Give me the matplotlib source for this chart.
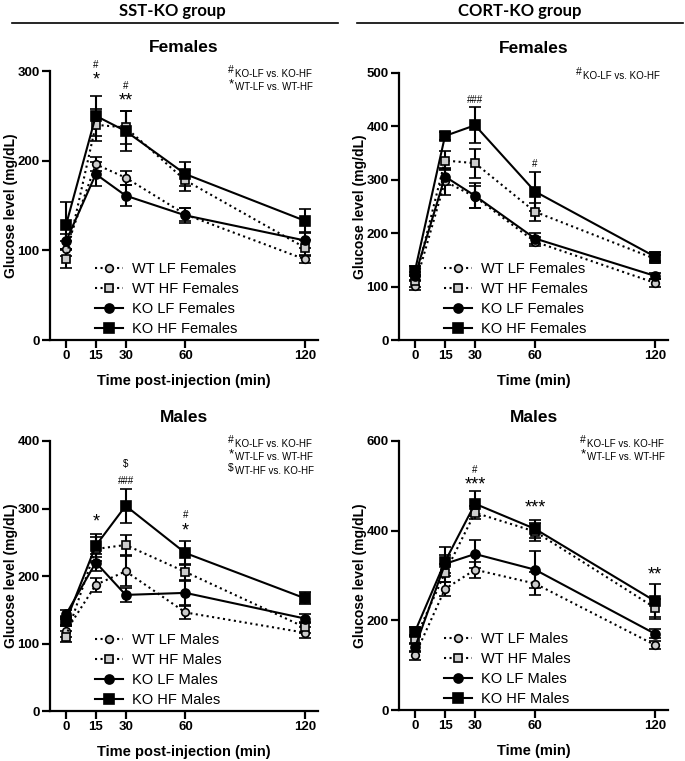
import numpy as np
import matplotlib.pyplot as plt
from matplotlib.lines import Line2D

plt.rcParams['font.family'] = ['Liberation Sans', 'DejaVu Sans']

times = [0, 15, 30, 60, 120]
groups = ["WT LF", "WT HF", "KO LF", "KO HF"]

# SST-KO females
sst_f_mean = {
    "WT LF": [102, 196, 181, 140, 90],
    "WT HF": [90, 240, 237, 178, 103],
    "KO LF": [110, 185, 161, 139, 111],
    "KO HF": [128, 250, 233, 185, 133],
}
sst_f_err = {
    "WT LF": [8, 8, 8, 7, 4],
    "WT HF": [10, 18, 18, 12, 8],
    "KO LF": [8, 13, 12, 8, 8],
    "KO HF": [26, 22, 22, 13, 13],
}

# CORT-KO females
cort_f_mean = {
    "WT LF": [102, 297, 268, 184, 107],
    "WT HF": [110, 336, 331, 240, 152],
    "KO LF": [120, 306, 270, 190, 120],
    "KO HF": [130, 382, 402, 278, 156],
}
cort_f_err = {
    "WT LF": [8, 25, 20, 8, 8],
    "WT HF": [10, 18, 27, 17, 8],
    "KO LF": [8, 15, 23, 10, 5],
    "KO HF": [8, 8, 34, 37, 8],
}

# SST-KO males
sst_m_mean = {
    "WT LF": [118, 187, 207, 146, 116],
    "WT HF": [110, 240, 246, 206, 124],
    "KO LF": [143, 220, 172, 175, 137],
    "KO HF": [133, 245, 304, 234, 167],
}
sst_m_err = {
    "WT LF": [8, 10, 22, 10, 8],
    "WT HF": [8, 18, 15, 12, 8],
    "KO LF": [6, 12, 10, 18, 7],
    "KO HF": [6, 17, 25, 18, 9],
}

# CORT-KO males
cort_m_mean = {
    "WT LF": [122, 270, 313, 282, 145],
    "WT HF": [158, 306, 440, 398, 228],
    "KO LF": [140, 326, 348, 313, 170],
    "KO HF": [175, 331, 460, 404, 243],
}
cort_m_err = {
    "WT LF": [10, 15, 18, 25, 10],
    "WT HF": [10, 20, 15, 20, 20],
    "KO LF": [10, 20, 32, 41, 10],
    "KO HF": [10, 32, 28, 20, 39],
}

styles = {
    "WT LF": dict(ls=':', marker='o', mfc='#cccccc', ms=5.5),
    "WT HF": dict(ls=':', marker='s', mfc='#cccccc', ms=5.5),
    "KO LF": dict(ls='-', marker='o', mfc='black', ms=6.5),
    "KO HF": dict(ls='-', marker='s', mfc='black', ms=7),
}


def draw_panel(rect, means, errs, sex, ylim, yticks, xlabel, marks, notes, note_x):
    ax = fig.add_axes(rect)
    handles = []
    for g in groups:
        st = styles[g]
        ax.errorbar(times, means[g], yerr=errs[g], color='black', lw=1.5,
                    ls=st['ls'], marker=st['marker'], mfc=st['mfc'], mec='black',
                    mew=1.2, ms=st['ms'], capsize=4.5, capthick=1.5, elinewidth=1.5)
        handles.append(Line2D([], [], color='black', lw=1.5, ls=st['ls'],
                              marker=st['marker'], mfc=st['mfc'], mec='black',
                              mew=1.2, ms=st['ms'], label=g + " " + sex))
    ax.set_xlim(-8, 126.5)
    ax.set_ylim(*ylim)
    ax.set_xticks(times)
    ax.set_yticks(yticks)
    for s in ['top', 'right']:
        ax.spines[s].set_visible(False)
    for s in ['left', 'bottom']:
        ax.spines[s].set_linewidth(1.6)
    ax.tick_params(width=1.6, length=5.5, labelsize=9.5, pad=2)
    for lab in ax.get_xticklabels() + ax.get_yticklabels():
        lab.set_fontweight('bold')
    ax.set_xlabel(xlabel, fontsize=10.5, fontweight='bold', labelpad=8)
    ax.set_ylabel("Glucose level (mg/dL)", fontsize=10, fontweight='bold')
    ax.yaxis.set_label_coords(-0.12, 0.5)
    ax.set_title(sex, fontsize=12.5, fontweight='bold', pad=14)
    ax.legend(handles=handles, loc='lower left', bbox_to_anchor=(0.12, -0.035),
              frameon=False, fontsize=10.5, handlelength=1.9, labelspacing=0.42,
              handletextpad=0.6)
    for x, y, t in marks:
        fs = 7 if t.startswith('#') or t == '$' else 13
        ax.text(x, y, t, ha='center', va='center', fontsize=fs)
    for i, (sym, t) in enumerate(notes):
        yy = 0.99 - i * 0.051
        ax.text(note_x - 0.005, yy + 0.012, sym, transform=ax.transAxes,
                ha='right', va='center', fontsize=7.5 if sym != '*' else 9.5)
        ax.text(note_x, yy, t, transform=ax.transAxes, ha='left', va='center', fontsize=7)
    return ax


fig = plt.figure(figsize=(6.85, 7.61), dpi=100)

draw_panel([0.073, 0.5532, 0.391, 0.3535], sst_f_mean, sst_f_err, "Females",
           (0, 300), [0, 100, 200, 300], "Time post-injection (min)",
           [(15, 307, '#'), (15, 290, '*'), (30, 283, '#'), (30, 267, '**')],
           [('#', 'KO-LF vs. KO-HF'), ('*', 'WT-LF vs. WT-HF')], 0.69)

draw_panel([0.5825, 0.5532, 0.3927, 0.351], cort_f_mean, cort_f_err, "Females",
           (0, 500), [0, 100, 200, 300, 400, 500], "Time (min)",
           [(30, 449, '###'), (60, 330, '#')],
           [('#', 'KO-LF vs. KO-HF')], 0.684)

draw_panel([0.073, 0.0657, 0.391, 0.3548], sst_m_mean, sst_m_err, "Males",
           (0, 400), [0, 100, 200, 300, 400], "Time post-injection (min)",
           [(30, 366, '$'), (30, 341, '###'), (15, 280, '*'), (60, 291, '#'), (60, 266, '*')],
           [('#', 'KO-LF vs. KO-HF'), ('*', 'WT-LF vs. WT-HF'), ('$', 'WT-HF vs. KO-HF')], 0.69)

draw_panel([0.5825, 0.067, 0.3927, 0.3535], cort_m_mean, cort_m_err, "Males",
           (0, 600), [0, 200, 400, 600], "Time (min)",
           [(30, 535, '#'), (30, 502, '***'), (60, 450, '***'), (120, 301, '**')],
           [('#', 'KO-LF vs. KO-HF'), ('*', 'WT-LF vs. WT-HF')], 0.699)

# group headers
fig.text(172 / 685, 1 - 11 / 761, "SST-KO group", ha='center', va='center',
         fontsize=12, fontweight='bold', family=['Lato', 'DejaVu Sans'])
fig.text(520 / 685, 1 - 11 / 761, "CORT-KO group", ha='center', va='center',
         fontsize=12, fontweight='bold', family=['Lato', 'DejaVu Sans'])
fig.add_artist(Line2D([12 / 685, 338 / 685], [1 - 23 / 761] * 2, color='black', lw=1.2))
fig.add_artist(Line2D([357 / 685, 683 / 685], [1 - 23 / 761] * 2, color='black', lw=1.2))

fig.savefig("out.png", dpi=100)
